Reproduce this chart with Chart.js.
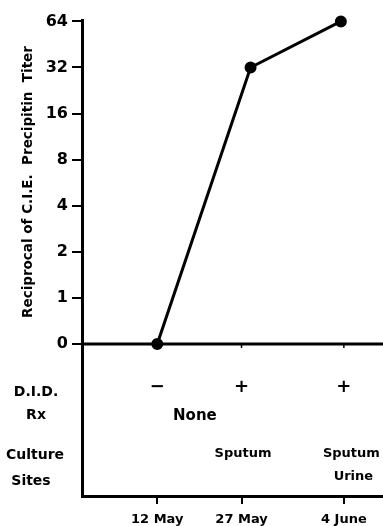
<!DOCTYPE html>
<html>
<head>
<meta charset="utf-8">
<script src="https://cdn.jsdelivr.net/npm/chart.js@4"></script>
<style>
  html, body { margin: 0; padding: 0; background: #fff; }
</style>
</head>
<body>
<canvas id="chart" width="383" height="526"></canvas>
<script>
// data
const dateLabels = ["12 May", "27 May", "4 June"];
const dateTickPos = [2.5, 5.3, 8.7];
const samplePos = [2.5, 5.6, 8.6];
const titers = [0, 32, 64];
const titerTicks = [0, 1, 2, 4, 8, 16, 32, 64];
const didResults = ["\u2212", "+", "+"];
const rxLabels = ["None"];
const cultureSites = [[], ["Sputum"], ["Sputum", "Urine"]];

// titer 0 sits one step below 1 on the log2 axis
const toY = t => (t === 0 ? -1 : Math.log2(t));

const FONT = "'DejaVu Sans', sans-serif";

const tablePlugin = {
  id: "table",
  beforeDatasetsDraw(chart) {
    const { ctx, chartArea, scales } = chart;
    const y0 = scales.y.getPixelForValue(-1);
    ctx.save();
    ctx.strokeStyle = "#000";
    ctx.lineWidth = 3;
    ctx.beginPath();
    ctx.moveTo(chartArea.left, y0);
    ctx.lineTo(chartArea.right, y0);
    ctx.stroke();
    ctx.lineWidth = 1.5;
    dateTickPos.slice(1).forEach(v => {
      const x = scales.x.getPixelForValue(v);
      ctx.beginPath();
      ctx.moveTo(x, y0);
      ctx.lineTo(x, y0 + 4);
      ctx.stroke();
    });
    ctx.restore();
  },
  afterDraw(chart) {
    const { ctx, scales } = chart;
    const xs = scales.x;
    const y0 = scales.y.getPixelForValue(-1);
    ctx.save();
    ctx.fillStyle = "#000";
    ctx.textAlign = "center";
    ctx.textBaseline = "middle";

    // row headers
    ctx.font = "bold 14px " + FONT;
    ctx.fillText("D.I.D.", 36, y0 + 48);
    ctx.fillText("Rx", 36, y0 + 71);
    ctx.fillText("Culture", 35, y0 + 111);
    ctx.fillText("Sites", 31, y0 + 137);

    // D.I.D. results
    ctx.font = "bold 18px " + FONT;
    didResults.forEach((s, i) => {
      ctx.fillText(s, xs.getPixelForValue(dateTickPos[i]), y0 + 43);
    });

    // treatment
    ctx.font = "bold 15px " + FONT;
    ctx.fillText(rxLabels[0], xs.getPixelForValue(3.75), y0 + 72);

    // culture sites
    ctx.font = "bold 13px " + FONT;
    const siteX = [2.5, 5.35, 8.95];
    cultureSites.forEach((list, i) => {
      list.forEach((s, j) => {
        ctx.fillText(s, xs.getPixelForValue(siteX[i]) + (j ? 2 : 0), y0 + 110 + j * 23);
      });
    });

    // y title
    ctx.font = "bold 13.5px " + FONT;
    ctx.translate(28, 182);
    ctx.rotate(-Math.PI / 2);
    ctx.fillText("Reciprocal of C.I.E.  Precipitin  Titer", 0, 0);
    ctx.restore();
  }
};

new Chart(document.getElementById("chart"), {
  type: "line",
  data: {
    datasets: [{
      data: titers.map((t, i) => ({ x: samplePos[i], y: toY(t) })),
      borderColor: "#000",
      backgroundColor: "#000",
      borderWidth: 3,
      pointRadius: 4.5,
      pointBackgroundColor: "#000",
      tension: 0,
      clip: false
    }]
  },
  options: {
    responsive: false,
    animation: false,
    layout: { autoPadding: false, padding: { left: 0, top: 20, right: 0, bottom: 0 } },
    plugins: {
      legend: { display: false },
      tooltip: { enabled: false }
    },
    scales: {
      x: {
        type: "linear",
        min: 0,
        max: 10,
        afterFit: axis => { axis.height = 30; },
        afterBuildTicks: axis => {
          axis.ticks = dateTickPos.map(v => ({ value: v }));
        },
        ticks: {
          autoSkip: false,
          maxRotation: 0,
          padding: 8,
          color: "#000",
          font: { family: FONT, size: 13, weight: "bold" },
          callback: (v, i) => dateLabels[i]
        },
        grid: { drawOnChartArea: false, tickLength: 8, color: "#000", lineWidth: 2 },
        border: { color: "#000", width: 3 }
      },
      y: {
        type: "linear",
        min: -4.3,
        max: 6.03,
        afterFit: axis => { axis.width = 82; },
        afterBuildTicks: axis => {
          axis.ticks = titerTicks.map(t => ({ value: toY(t) }));
        },
        ticks: {
          autoSkip: false,
          padding: 4,
          color: "#000",
          font: { family: FONT, size: 16, weight: "bold" },
          callback: (v, i) => String(titerTicks[i])
        },
        grid: { drawOnChartArea: false, tickLength: 10, color: "#000", lineWidth: 2 },
        border: { color: "#000", width: 3 }
      }
    }
  },
  plugins: [tablePlugin]
});
</script>
</body>
</html>
